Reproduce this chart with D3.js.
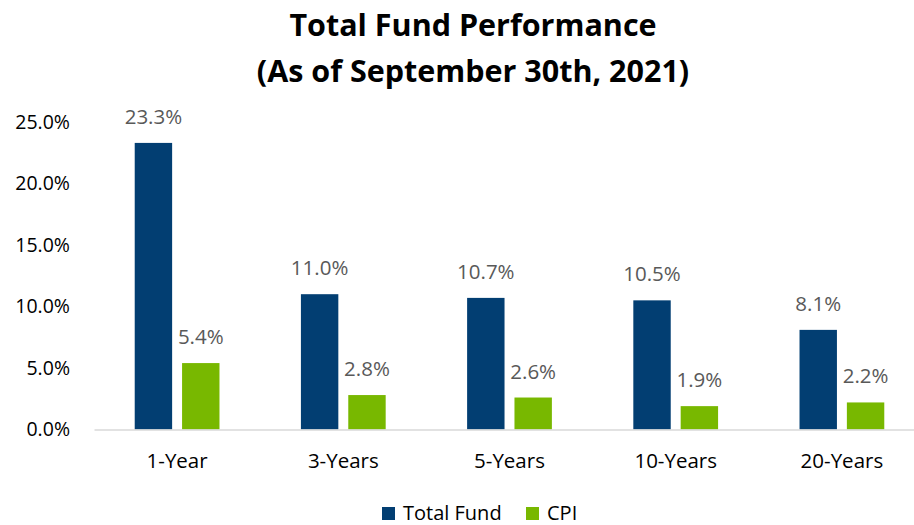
<!DOCTYPE html>
<html>
<head>
<meta charset="utf-8">
<script src="https://cdn.jsdelivr.net/npm/d3@7"></script>
<style>
  body { margin: 0; background: #fff; }
  text { font-family: "Open Sans", sans-serif; }
</style>
</head>
<body>
<div id="vis"></div>
<script>
const WIDTH = 914;
const HEIGHT = 525;
const MARGIN = { LEFT: 94, RIGHT: -11, TOP: 122, BOTTOM: 95.5 };

// data
const periods = ["1-Year", "3-Years", "5-Years", "10-Years", "20-Years"];
const totalFund = [23.3, 11.0, 10.7, 10.5, 8.1];
const cpi = [5.4, 2.8, 2.6, 1.9, 2.2];
const seriesNames = ["Total Fund", "CPI"];
const yTicks = [0, 5, 10, 15, 20, 25];
const titleLines = ["Total Fund Performance", "(As of September 30th, 2021)"];

const COLORS = ["#023e72", "#78b800"];

const svg = d3
  .select("#vis")
  .append("svg")
  .attr("width", WIDTH)
  .attr("height", HEIGHT);

const x = d3
  .scaleBand()
  .domain(periods)
  .range([MARGIN.LEFT, WIDTH - MARGIN.RIGHT]);

const y = d3
  .scaleLinear()
  .domain([0, 25])
  .range([HEIGHT - MARGIN.BOTTOM, MARGIN.TOP]);

// inner scale for the two series
const inner = d3
  .scaleBand()
  .domain(seriesNames)
  .range([x.bandwidth() * 0.245, x.bandwidth() * 0.755])
  .paddingInner(0.21);

// title
svg
  .append("g")
  .selectAll("text")
  .data(titleLines)
  .enter()
  .append("text")
  .attr("x", 473)
  .attr("y", (d, i) => 36 + i * 46)
  .attr("text-anchor", "middle")
  .style("font-size", "30.5px")
  .style("font-weight", "bold")
  .style("fill", "#000")
  .text((d) => d);

// y axis labels (no line)
const yAxis = svg
  .append("g")
  .attr("transform", `translate(70,0)`)
  .call(
    d3
      .axisLeft(y)
      .tickValues(yTicks)
      .tickSize(0)
      .tickPadding(0)
      .tickFormat((d) => d.toFixed(1) + "%")
  );
yAxis.select(".domain").remove();
yAxis
  .selectAll("text")
  .style("font-size", "19.5px")
  .style("font-family", "'Open Sans', sans-serif")
  .style("fill", "#000");

// bars
const rows = periods.map((p, i) => ({ period: p, values: [totalFund[i], cpi[i]] }));

const groups = svg
  .append("g")
  .selectAll("g")
  .data(rows)
  .enter()
  .append("g")
  .attr("transform", (d) => `translate(${x(d.period)},0)`);

groups
  .selectAll("rect")
  .data((d) => d.values.map((v, j) => ({ name: seriesNames[j], value: v, j: j })))
  .enter()
  .append("rect")
  .attr("x", (d) => inner(d.name))
  .attr("width", inner.bandwidth())
  .attr("y", (d) => y(d.value))
  .attr("height", (d) => y(0) - y(d.value))
  .style("fill", (d) => COLORS[d.j]);

groups
  .selectAll("text")
  .data((d) => d.values.map((v, j) => ({ name: seriesNames[j], value: v })))
  .enter()
  .append("text")
  .attr("x", (d) => inner(d.name) + inner.bandwidth() / 2)
  .attr("y", (d) => y(d.value) - 19)
  .attr("text-anchor", "middle")
  .style("font-size", "20.5px")
  .style("fill", "#595959")
  .text((d) => d.value.toFixed(1) + "%");

// x axis
const xAxis = svg
  .append("g")
  .attr("transform", `translate(0, ${y(0)})`)
  .call(d3.axisBottom(x).tickSize(0).tickPadding(24));
xAxis.select(".domain").attr("stroke", "#d9d9d9").attr("stroke-width", 1.5);
xAxis
  .selectAll("text")
  .style("font-size", "20.5px")
  .style("font-family", "'Open Sans', sans-serif")
  .style("fill", "#000");

// legend
const legendX = [382, 526];
const legend = svg
  .append("g")
  .selectAll("g")
  .data(seriesNames)
  .enter()
  .append("g")
  .attr("transform", (d, i) => `translate(${legendX[i]}, 507)`);

legend
  .append("rect")
  .attr("width", 13)
  .attr("height", 13)
  .style("fill", (d, i) => COLORS[i]);

legend
  .append("text")
  .attr("x", 21)
  .attr("y", 12.5)
  .style("font-size", "20px")
  .style("fill", "#000")
  .text((d) => d);
</script>
</body>
</html>
